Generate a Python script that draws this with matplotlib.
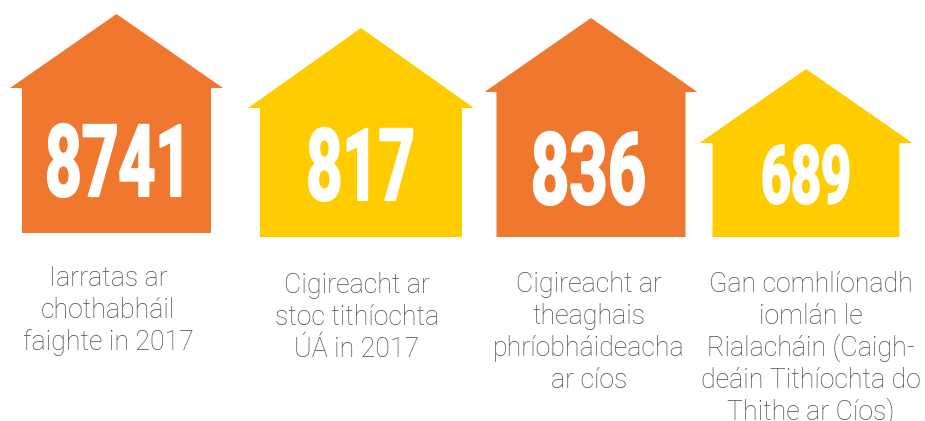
import matplotlib
matplotlib.use('Agg')
import matplotlib.pyplot as plt
from matplotlib.patches import Polygon
from matplotlib.patheffects import AbstractPathEffect
from matplotlib.transforms import Affine2D

W, H = 925, 421
values = ['8741', '817', '836', '689']
labels = [
    ['Iarratas ar', 'chothabháil', 'faighte in 2017'],
    ['Cigireacht ar', 'stoc tithíochta', 'ÚÁ in 2017'],
    ['Cigireacht ar', 'theaghais', 'phríobháideacha', 'ar cíos'],
    ['Gan comhlíonadh', 'iomlán le', 'Rialacháin (Caigh-', 'deáin Tithíochta do', 'Thithe ar Cíos)'],
]
colors = ['#EF772E', '#FFCC00', '#EF772E', '#FFCC00']
apex_x = [116.5, 361, 591, 806]
apex_y = [14, 28, 18, 69]
eave_y = [88, 108, 92, 143]
roof_half = [106.5, 113, 106.5, 106.5]
body_half = [94.5, 101, 94.5, 93.5]
bottom = [233, 237, 237, 237]
num_x = [118.5, 360.5, 588.5, 806]
num_base = [196, 200, 204, 203]
num_size = [72, 72, 72, 58]
num_squeeze = [0.64, 0.63, 0.67, 0.65]
label_x = [108, 357, 589, 811]
label_base = [286, 293, 292, 292]


class Squeeze(AbstractPathEffect):
    """Draw text narrower about a centre, like the condensed display face."""
    def __init__(self, sx, cx, lw):
        super().__init__()
        self.sx, self.cx, self.lw = sx, cx, lw

    def draw_path(self, renderer, gc, tpath, affine, rgbFace=None):
        g = renderer.new_gc()
        g.copy_properties(gc)
        g.set_linewidth(self.lw)
        g.set_foreground('white')
        t = affine + Affine2D().translate(-self.cx, 0).scale(self.sx, 1).translate(self.cx, 0)
        renderer.draw_path(g, tpath, t, rgbFace)
        g.restore()


fig = plt.figure(figsize=(W / 100, H / 100), dpi=100, facecolor='white')
ax = fig.add_axes([0, 0, 1, 1])
ax.set_xlim(0, W)
ax.set_ylim(H, 0)
ax.axis('off')

for i, v in enumerate(values):
    cx, ay, ey, rh, bh, b = apex_x[i], apex_y[i], eave_y[i], roof_half[i], body_half[i], bottom[i]
    ax.add_patch(Polygon([(cx, ay), (cx + rh, ey), (cx + bh, ey), (cx + bh, b),
                          (cx - bh, b), (cx - bh, ey), (cx - rh, ey)],
                         closed=True, facecolor=colors[i], edgecolor='none'))
    t = ax.text(num_x[i], num_base[i], v, color='white', ha='center', va='baseline',
                fontsize=num_size[i], fontweight='bold', family=['Roboto', 'DejaVu Sans'])
    t.set_path_effects([Squeeze(num_squeeze[i], num_x[i], 1.6)])
    for j, line in enumerate(labels[i]):
        ax.text(label_x[i], label_base[i] + j * 32, line, color='#4A4B4D', ha='center', va='baseline',
                fontsize=19.3, fontweight='light', family=['Roboto', 'DejaVu Sans'])

fig.savefig('out.png', dpi=100, facecolor='white')
